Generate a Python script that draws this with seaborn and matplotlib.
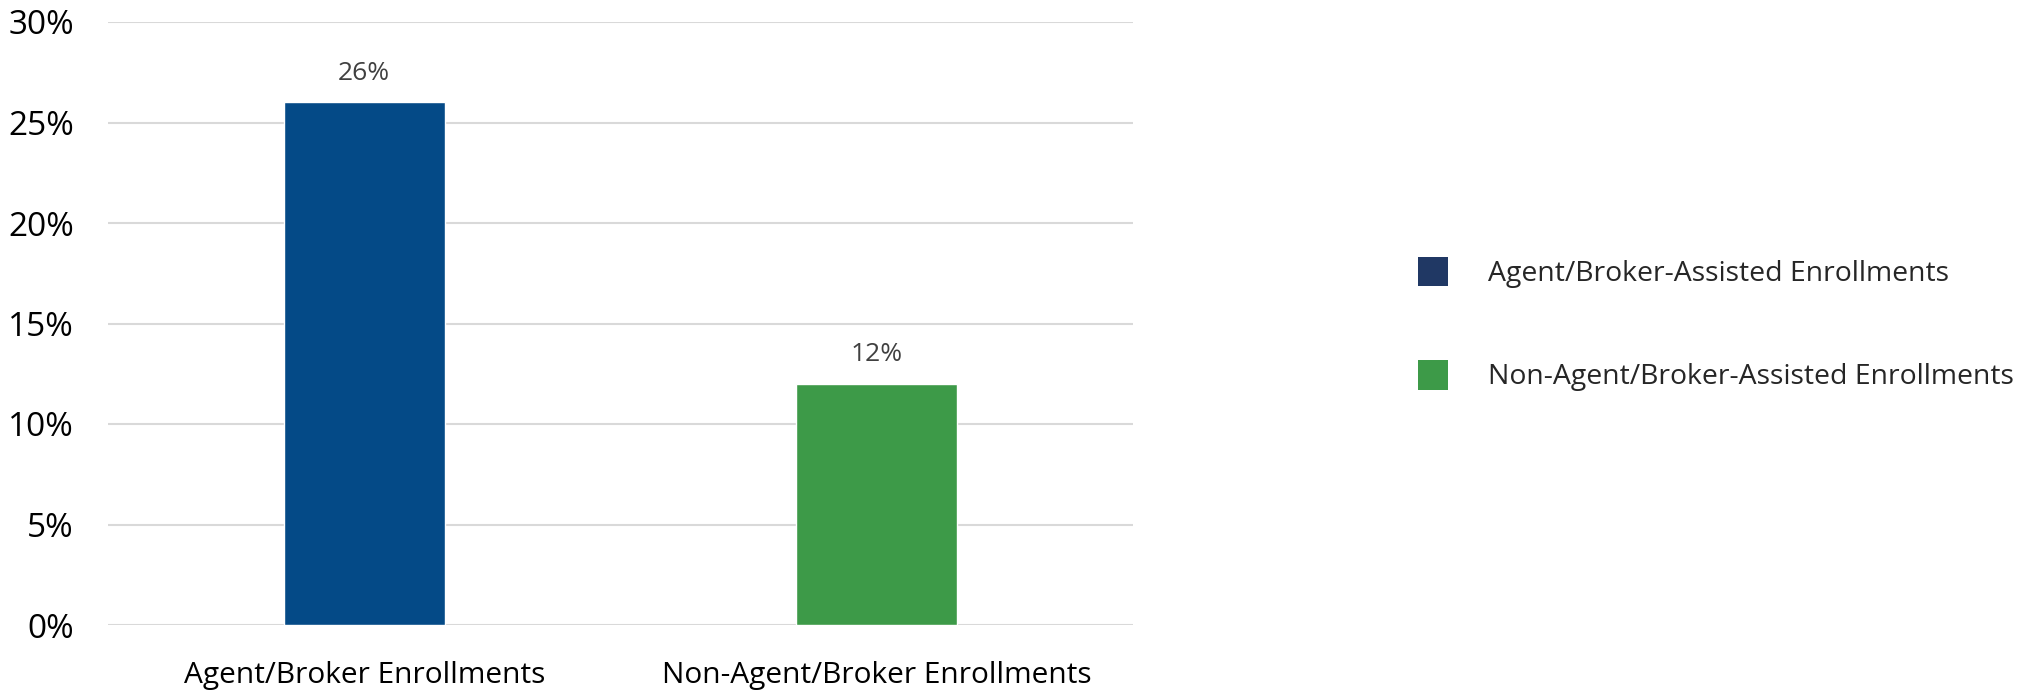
import matplotlib
matplotlib.use("Agg")
import matplotlib.pyplot as plt
from matplotlib.patches import Patch
from matplotlib.ticker import PercentFormatter
import seaborn as sns
import pandas as pd

categories = ["Agent/Broker Enrollments", "Non-Agent/Broker Enrollments"]
values = [0.26, 0.12]
value_labels = ["26%", "12%"]
legend_labels = ["Agent/Broker-Assisted Enrollments", "Non-Agent/Broker-Assisted Enrollments"]
bar_colors = ["#044A87", "#3D9A48"]
legend_colors = ["#203864", "#3D9A48"]
y_ticks = [0, 0.05, 0.10, 0.15, 0.20, 0.25, 0.30]

sns.set_theme(style="white")
plt.rcParams["font.family"] = ["Open Sans", "DejaVu Sans"]

df = pd.DataFrame({"category": categories, "value": values})

fig = plt.figure(figsize=(20.25, 6.9), dpi=100)
ax = fig.add_axes([108 / 2025, 1 - 625 / 690, (1133 - 108) / 2025, (625 - 22) / 690])

sns.barplot(data=df, x="category", y="value", hue="category",
            palette=dict(zip(categories, bar_colors)), width=0.315,
            legend=False, ax=ax, saturation=1, zorder=3)

ax.set_xlim(-0.5, 1.5)
ax.set_ylim(0, 0.30)
ax.set_yticks(y_ticks)
ax.yaxis.set_major_formatter(PercentFormatter(1.0, decimals=0))
ax.grid(axis="y", color="#D9D9D9", linewidth=1.5, zorder=0)
ax.set_axisbelow(True)
for s in ax.spines.values():
    s.set_visible(False)
ax.set_xlabel("")
ax.set_ylabel("")
ax.tick_params(axis="y", labelsize=24, colors="#000000", pad=24.5, length=0)
ax.tick_params(axis="x", labelsize=21.5, colors="#000000", pad=26, length=0)

for i, (v, lab) in enumerate(zip(values, value_labels)):
    ax.annotate(lab, xy=(i, v), xytext=(0, 12), textcoords="offset points",
                ha="center", va="bottom", fontsize=19, color="#404040")

handles = [Patch(facecolor=c, edgecolor="none") for c in legend_colors]
fig.legend(handles, legend_labels, loc="center left", bbox_to_anchor=(1418 / 2025, 1 - 324 / 690),
           frameon=False, fontsize=20.4, handlelength=1.06, handleheight=1.22,
           handletextpad=1.4, labelspacing=2.55, borderpad=0, borderaxespad=0)

fig.savefig("out.png", dpi=100)
